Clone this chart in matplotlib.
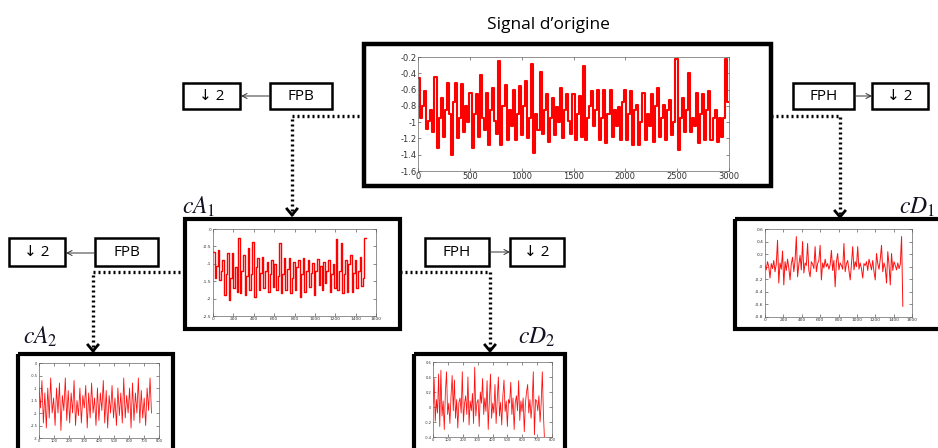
import numpy as np
import matplotlib
matplotlib.use('Agg')
import matplotlib.pyplot as plt
from matplotlib.patches import Rectangle
from matplotlib.ticker import FuncFormatter

plt.rcParams['mathtext.fontset'] = 'stix'

# ---------------- data ----------------
signal_origine = [-0.46, -0.95, -0.80, -0.62, -1.09, -0.98, -0.85, -1.12, -0.44, -1.32,
                  -0.95, -0.70, -1.18, -0.85, -0.52, -0.90, -1.40, -0.75, -0.52, -1.20,
                  -0.95, -0.53, -1.12, -0.80, -1.00, -0.64, -1.32, -0.90, -0.66, -1.18,
                  -0.42, -0.95, -1.10, -0.64, -1.28, -0.85, -0.58, -0.99, -1.15, -0.25,
                  -1.28, -0.80, -0.54, -1.22, -0.85, -1.05, -0.60, -1.22, -0.90, -0.56,
                  -1.16, -0.80, -0.50, -1.20, -0.95, -0.29, -1.38, -0.90, -1.10, -0.38,
                  -1.14, -0.85, -0.66, -1.24, -0.95, -0.70, -1.16, -0.82, -1.00, -0.58,
                  -1.20, -0.85, -0.66, -0.99, -1.15, -0.66, -1.22, -0.90, -0.68, -1.18,
                  -0.31, -1.22, -0.95, -0.80, -0.62, -1.05, -0.85, -0.60, -1.22, -0.95,
                  -0.60, -1.26, -0.90, -0.60, -1.18, -0.85, -1.05, -0.81, -1.22, -0.75,
                  -0.60, -1.22, -0.90, -0.62, -1.28, -0.85, -0.79, -1.28, -1.00, -0.64,
                  -1.22, -0.90, -1.05, -0.66, -1.24, -0.80, -0.58, -1.18, -0.95, -0.79,
                  -1.22, -0.85, -0.73, -1.16, -1.00, -0.23, -1.34, -0.95, -0.70, -1.12,
                  -0.85, -0.40, -1.12, -0.95, -1.05, -0.64, -1.26, -0.90, -0.66, -1.22,
                  -0.85, -0.62, -1.22, -0.95, -0.85, -1.24, -0.95, -1.18, -0.95, -0.23,
                  -0.75]
n_origine = 3000

cA1 = [-0.65, -1.42, -1.05, -0.60, -1.47, -1.20, -0.89, -1.90, -1.30, -0.70,
       -2.04, -1.40, -0.70, -1.70, -1.10, -1.80, -0.27, -1.85, -1.20, -0.75,
       -1.90, -1.35, -0.56, -1.75, -1.30, -0.36, -1.94, -1.10, -0.84, -1.75,
       -1.25, -0.80, -1.70, -1.20, -0.94, -1.80, -1.30, -0.90, -1.66, -1.00,
       -1.75, -1.35, -0.41, -1.85, -1.30, -0.84, -1.75, -1.15, -0.84, -1.85,
       -1.40, -0.94, -1.75, -1.10, -0.89, -1.94, -1.30, -0.84, -1.80, -1.20,
       -0.89, -1.66, -1.25, -0.99, -1.90, -1.20, -0.85, -1.60, -1.05, -1.75,
       -0.95, -1.55, -1.20, -0.90, -1.80, -1.30, -1.00, -1.70, -0.30, -1.75,
       -1.20, -0.41, -1.85, -1.30, -0.89, -1.80, -1.00, -0.75, -1.80, -1.25,
       -0.89, -1.70, -1.20, -0.80, -1.65, -1.40, -0.27]
n_cA1 = 1500

cD1 = [0.02, -0.05, 0.08, 0.00, -0.18, 0.05, -0.03, 0.10, -0.08, 0.04,
       0.42, -0.26, 0.06, -0.04, 0.25, -0.29, 0.08, -0.06, 0.12, -0.02,
       -0.21, 0.05, 0.15, -0.08, 0.10, 0.48, -0.16, 0.03, 0.18, -0.05,
       0.40, -0.10, 0.06, 0.02, 0.37, -0.06, -0.16, 0.08, 0.04, -0.03,
       0.32, -0.08, 0.05, 0.10, 0.34, -0.21, 0.06, -0.02, 0.12, 0.00,
       0.05, -0.04, 0.03, 0.26, -0.06, 0.10, -0.32, 0.08, 0.21, -0.05,
       0.06, 0.02, -0.04, 0.37, -0.08, 0.05, 0.10, -0.06, -0.21, 0.04,
       0.32, -0.05, 0.08, 0.00, 0.32, -0.04, 0.06, -0.03, -0.18, 0.05,
       0.02, 0.08, -0.06, 0.12, 0.04, -0.05, 0.10, -0.08, -0.21, 0.21,
       0.05, -0.04, 0.12, 0.34, -0.08, 0.06, -0.02, -0.26, 0.24, 0.03,
       -0.29, 0.21, -0.06, 0.08, 0.02, -0.05, 0.06, -0.03, 0.04, 0.48, -0.63]
n_cD1 = 1500

cA2 = [-1.0, -1.8, -0.7, -2.4, -1.2, -2.6, -1.0, -2.2, -0.6, -2.0,
       -1.4, -2.5, -1.0, -2.0, -0.8, -2.7, -1.3, -1.9, -0.6, -2.3,
       -1.1, -2.4, -1.2, -2.0, -0.7, -2.5, -1.5, -2.1, -1.0, -2.4,
       -1.3, -1.8, -0.9, -2.6, -1.2, -2.2, -0.8, -2.0, -1.4, -2.5,
       -1.0, -2.3, -1.2, -1.9, -0.7, -2.4, -1.1, -2.6, -1.3, -2.0,
       -0.9, -2.2, -1.4, -2.5, -1.0, -2.1, -1.2, -2.4, -0.6, -2.2,
       -1.3, -2.0, -1.0, -2.6, -0.8, -2.3, -1.2, -2.0, -0.6, -2.4,
       -1.1, -2.2, -1.4, -2.5, -1.0, -1.9, -0.6, -2.0]
n_cA2 = 750

cD2 = [0.05, 0.38, -0.19, 0.10, -0.08, 0.44, -0.26, 0.49, -0.12, 0.08,
       -0.30, 0.20, 0.47, -0.10, 0.05, -0.22, 0.15, 0.42, -0.05, 0.36,
       -0.15, 0.10, -0.28, 0.06, 0.12, -0.08, 0.47, -0.20, 0.05, 0.15,
       -0.10, 0.40, -0.24, 0.08, -0.05, 0.18, -0.22, 0.53, -0.12, 0.06,
       0.10, -0.26, 0.20, 0.05, 0.38, -0.10, 0.12, -0.06, 0.35, -0.30,
       0.08, 0.44, -0.15, 0.05, -0.08, 0.30, -0.22, 0.10, 0.40, -0.12,
       0.06, -0.24, 0.15, 0.36, -0.06, 0.08, -0.26, 0.10, 0.05, 0.33,
       -0.10, 0.12, -0.30, 0.06, 0.15, -0.05, 0.35, -0.18, 0.08, -0.06,
       0.12, -0.33, 0.05, 0.20, 0.30, -0.08, 0.10, -0.15, 0.05, 0.47,
       -0.37, 0.10, 0.08, -0.05, 0.15, -0.20, 0.05, 0.47, -0.10, -0.46]
n_cD2 = 750

# ---------------- figure ----------------
W, H = 938, 448
fig = plt.figure(figsize=(W / 100, H / 100), dpi=100)
bg = fig.add_axes([0, 0, 1, 1])
bg.set_xlim(0, W)
bg.set_ylim(H, 0)
bg.axis('off')

SANS = ['Open Sans', 'DejaVu Sans']


def px_axes(x0, y0, x1, y1):
    return fig.add_axes([x0 / W, 1 - y1 / H, (x1 - x0) / W, (y1 - y0) / H])


def box(x0, y0, x1, y1, lw):
    bg.add_patch(Rectangle((x0, y0), x1 - x0, y1 - y0, fill=False, lw=lw,
                           edgecolor='black', joinstyle='miter'))


def label_box(x0, y0, x1, y1, text, fs=11):
    box(x0, y0, x1, y1, 1.8)
    bg.text((x0 + x1) / 2, (y0 + y1) / 2, text, ha='center', va='center',
            fontsize=fs, family=SANS, color='black')


def thin_arrow(xs, xe, y):
    bg.annotate('', xy=(xe, y), xytext=(xs, y),
                arrowprops=dict(arrowstyle='->', lw=0.7, color='#333333',
                                shrinkA=0, shrinkB=0, mutation_scale=9))


def dotted(points):
    xs = [p[0] for p in points]
    ys = [p[1] for p in points]
    bg.plot(xs, ys, color='black', lw=2.4, ls=(0, (0.6, 0.9)),
            solid_capstyle='butt', dash_capstyle='butt')
    x, y = points[-1]
    bg.plot([x - 5, x, x + 5], [y - 6, y, y - 6], color='black', lw=2.0,
            solid_joinstyle='miter')


fmt = FuncFormatter(lambda v, p: '%g' % round(v, 3))


def signal_axes(ext, values, n, xmax, xstep, ylim, ystep, fs, lw, step=False):
    ax = px_axes(*ext)
    v = np.asarray(values, dtype=float)
    if step:
        w = n / len(v)
        xs = np.arange(len(v) + 1) * w
        ys = np.append(v, v[-1])
        ax.plot(xs, ys, drawstyle='steps-post', color='#ff0000', lw=lw)
    else:
        xs = np.linspace(0, n, len(v))
        ax.plot(xs, v, color='#ff1010', lw=lw)
    ax.set_xlim(0, xmax)
    ax.set_ylim(*ylim)
    ax.set_xticks(np.arange(0, xmax + 1, xstep))
    ax.set_yticks(np.arange(ylim[0], ylim[1] + ystep / 2, ystep))
    ax.xaxis.set_major_formatter(fmt)
    ax.yaxis.set_major_formatter(fmt)
    ax.tick_params(direction='in', length=2, width=0.4, labelsize=fs, pad=1,
                   top=True, right=True, colors='#333333')
    for s in ax.spines.values():
        s.set_linewidth(0.5)
        s.set_color('#666666')
    return ax


# title
bg.text(548, 25, 'Signal d\u2019origine', ha='center', va='center', fontsize=12.5,
        family=SANS, color='black')

# main box + plot
box(364, 44, 771, 186, 3.2)
signal_axes((418, 57, 729, 171), signal_origine, n_origine, 3000, 500,
            (-1.6, -0.2), 0.2, 6, 1.5, step=True)

# level 1 filters
label_box(183, 83, 240, 109, '\u2193 2')
label_box(270, 83, 332, 109, 'FPB')
thin_arrow(270, 241, 96)
label_box(793, 83, 854, 109, 'FPH')
label_box(872, 83, 928, 109, '\u2193 2')
thin_arrow(854, 872, 96)

dotted([(364, 116), (292, 116), (292, 215)])
dotted([(771, 116), (840, 116), (840, 217)])

LBL = dict(fontsize=17, ha='left', va='baseline', color='#111122')

# cA1
bg.text(182, 214, r'$cA_1$', **LBL)
box(185, 219, 400, 329, 3.0)
signal_axes((213, 229, 376, 316), cA1, n_cA1, 1600, 200, (-2.5, 0), 0.5, 3.2, 1.0,
            step=True)

# cD1
bg.text(899, 214, r'$cD_1$', **LBL)
box(735, 219, 945, 329, 3.0)
signal_axes((765, 229, 912, 317), cD1, n_cD1, 1600, 200, (-0.8, 0.6), 0.2, 3.2, 0.7)

# level 2 filters
label_box(9, 238, 65, 266, '\u2193 2')
label_box(95, 238, 158, 266, 'FPB')
thin_arrow(95, 66, 253)
label_box(425, 238, 489, 266, 'FPH')
label_box(510, 238, 564, 266, '\u2193 2')
thin_arrow(489, 510, 252)

dotted([(185, 272), (93, 272), (93, 351)])
dotted([(400, 272), (490, 272), (490, 351)])

# cA2
bg.text(23, 344, r'$cA_2$', **LBL)
box(18, 354, 173, 460, 3.0)
signal_axes((39, 363, 159, 438), cA2, n_cA2, 800, 100, (-3, 0), 0.5, 2.6, 0.6)

# cD2
bg.text(518, 344, r'$cD_2$', **LBL)
box(414, 354, 565, 460, 3.0)
signal_axes((433, 362, 552, 437), cD2, n_cD2, 800, 100, (-0.4, 0.6), 0.2, 2.6, 0.6)

fig.savefig('out.png', dpi=100)
